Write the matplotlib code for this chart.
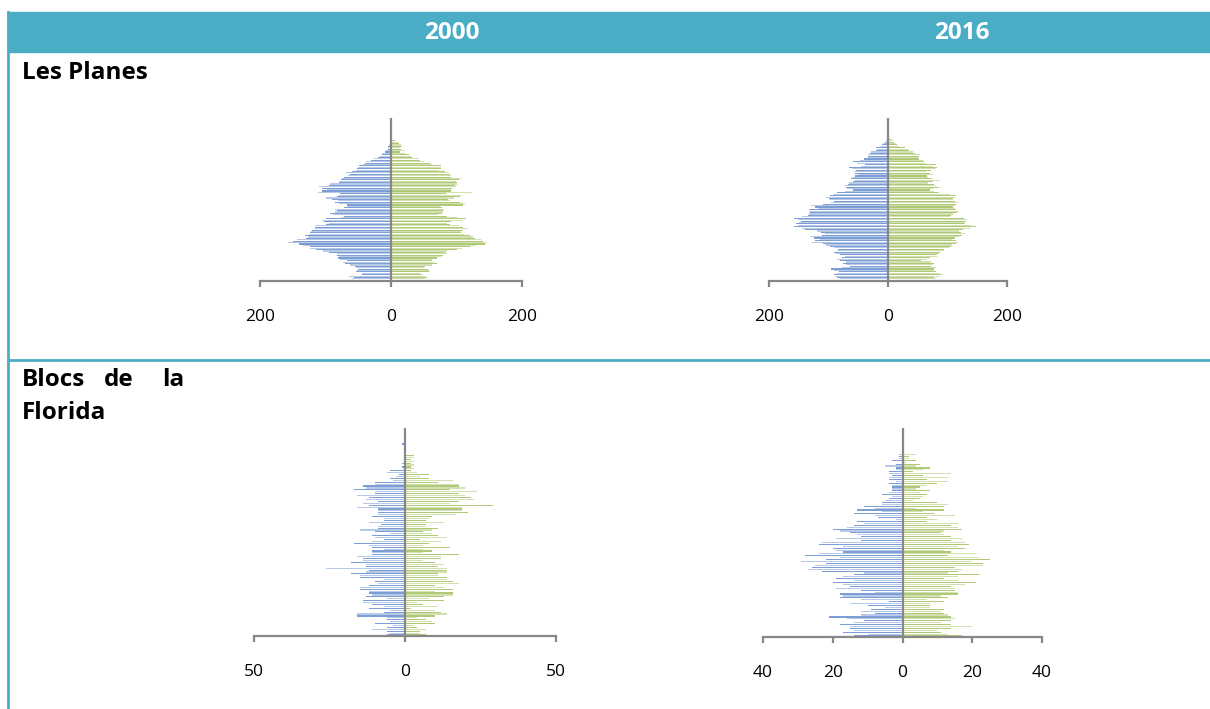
import matplotlib
matplotlib.use("Agg")
import matplotlib.pyplot as plt
from matplotlib.patches import Rectangle
from matplotlib.lines import Line2D

plt.rcParams['font.family'] = ['Open Sans', 'DejaVu Sans']

# ---------------- data ----------------
ages = list(range(101))
col_headers = ["2000", "2016"]
row_labels = ["Les Planes", "Blocs de la Florida"]

male_lp_2000 = [67, 60, 57, 64, 45, 44, 53, 52, 51, 53,
                55, 62, 70, 73, 67, 78, 81, 80, 82, 83,
                95, 104, 115, 123, 124, 135, 141, 158, 150, 143,
                130, 127, 131, 125, 123, 122, 120, 116, 116, 116,
                100, 94, 102, 105, 100, 75, 72, 88, 93, 85,
                83, 85, 71, 67, 67, 80, 86, 81, 90, 100,
                83, 80, 78, 112, 105, 98, 105, 110, 95, 93,
                80, 78, 77, 75, 72, 65, 62, 68, 60, 53,
                52, 50, 49, 42, 40, 38, 30, 26, 20, 17,
                14, 13, 9, 8, 5, 5, 4, 3, 2, 1,
                1]
female_lp_2000 = [50, 52, 55, 52, 48, 45, 58, 60, 56, 50,
                  52, 63, 70, 65, 62, 63, 70, 76, 80, 86,
                  83, 85, 100, 108, 120, 130, 143, 147, 140, 137,
                  128, 125, 120, 112, 107, 107, 110, 118, 110, 104,
                  90, 86, 92, 110, 115, 100, 85, 71, 78, 80,
                  80, 81, 78, 75, 110, 113, 105, 90, 87, 96,
                  105, 107, 84, 123, 92, 91, 93, 99, 98, 100,
                  101, 99, 104, 107, 91, 92, 90, 89, 82, 74,
                  76, 77, 76, 62, 60, 50, 45, 42, 32, 30,
                  28, 22, 14, 22, 16, 14, 17, 16, 12, 10,
                  6]
male_lp_2016 = [75, 80, 85, 88, 91, 86, 82, 91, 95, 78,
                64, 70, 76, 71, 80, 86, 78, 72, 80, 87,
                91, 85, 84, 90, 97, 105, 110, 128, 122, 114,
                125, 131, 111, 106, 112, 120, 140, 145, 158, 152,
                154, 150, 147, 152, 158, 145, 135, 132, 131, 132,
                132, 117, 122, 130, 110, 95, 91, 98, 100, 104,
                97, 90, 85, 72, 59, 69, 70, 72, 68, 65,
                58, 55, 62, 58, 55, 50, 55, 57, 53, 60,
                65, 45, 38, 52, 58, 47, 40, 33, 33, 33,
                31, 28, 20, 18, 20, 11, 10, 8, 5, 3,
                2]
female_lp_2016 = [85, 80, 77, 85, 90, 86, 80, 77, 78, 81,
                  72, 76, 78, 72, 55, 65, 71, 82, 82, 85,
                  88, 94, 94, 102, 106, 107, 115, 117, 114, 108,
                  112, 120, 124, 129, 122, 119, 126, 138, 148, 140,
                  130, 127, 131, 132, 127, 104, 106, 110, 116, 120,
                  114, 113, 109, 112, 115, 118, 113, 110, 109, 113,
                  115, 105, 86, 78, 70, 75, 86, 80, 78, 68,
                  76, 87, 74, 68, 66, 76, 70, 64, 72, 80,
                  82, 76, 80, 64, 60, 58, 52, 50, 52, 53,
                  46, 42, 35, 33, 28, 18, 15, 13, 10, 8,
                  5]
male_bf_2000 = [6, 5, 6, 11, 6, 4, 10, 5, 6, 6,
                16, 16, 7, 5, 12, 7, 11, 14, 14, 6,
                13, 11, 12, 12, 15, 15, 12, 9, 10, 7,
                15, 15, 18, 13, 12, 26, 13, 13, 18, 14,
                14, 16, 11, 11, 11, 7, 11, 12, 17, 11,
                7, 10, 11, 5, 10, 15, 9, 9, 8, 12,
                7, 7, 11, 9, 9, 9, 9, 16, 12, 14,
                9, 13, 12, 16, 10, 10, 17, 13, 14, 10,
                10, 4, 5, 3, 2, 6, 5, 0, 1, 0,
                1, 0, 0, 0, 0, 0, 0, 0, 0, 0,
                1]
female_bf_2000 = [7, 5, 5, 7, 4, 3, 10, 9, 7, 4,
                  10, 14, 12, 10, 2, 11, 6, 4, 13, 8,
                  13, 16, 16, 10, 16, 13, 10, 18, 16, 14,
                  14, 11, 11, 14, 14, 14, 11, 13, 10, 6,
                  12, 12, 18, 6, 9, 6, 15, 6, 8, 12,
                  5, 14, 11, 9, 6, 9, 11, 7, 7, 13,
                  7, 8, 9, 17, 21, 19, 19, 19, 29, 15,
                  18, 23, 22, 20, 18, 24, 15, 20, 18, 18,
                  11, 16, 8, 5, 8, 4, 2, 3, 2, 3,
                  2, 3, 2, 3, 3, 0, 0, 0, 0, 0,
                  0]
male_bf_2016 = [14, 10, 17, 14, 15, 15, 18, 14, 11, 16,
                21, 12, 8, 12, 9, 5, 10, 15, 4, 12,
                18, 17, 18, 8, 12, 19, 15, 17, 20, 14,
                19, 17, 14, 11, 23, 27, 26, 25, 22, 29,
                22, 18, 28, 24, 17, 19, 20, 17, 24, 23,
                12, 19, 12, 13, 15, 18, 20, 16, 14, 11,
                13, 2, 7, 8, 14, 6, 13, 8, 11, 6,
                6, 5, 4, 3, 6, 4, 3, 3, 3, 3,
                4, 2, 4, 4, 3, 4, 4, 2, 2, 5,
                2, 0, 3, 1, 1, 1, 0, 0, 0, 0,
                0]
female_bf_2016 = [17, 13, 11, 10, 14, 20, 14, 11, 14, 15,
                  14, 13, 12, 11, 12, 8, 8, 8, 12, 7,
                  13, 11, 16, 16, 15, 15, 14, 18, 21, 16,
                  12, 16, 22, 13, 16, 17, 15, 23, 23, 20,
                  25, 22, 13, 21, 14, 12, 18, 16, 19, 18,
                  14, 17, 14, 12, 11, 12, 17, 16, 14, 16,
                  7, 10, 7, 15, 9, 6, 12, 4, 12, 13,
                  10, 3, 5, 6, 7, 5, 8, 4, 5, 7,
                  10, 13, 7, 13, 6, 14, 3, 6, 8, 4,
                  5, 1, 4, 2, 2, 4, 0, 0, 0, 0,
                  0]

ticks_lp = [-200, 0, 200]
ticks_bf_2000 = [-50, 0, 50]
ticks_bf_2016 = [-40, -20, 0, 20, 40]

# ---------------- layout ----------------
W, H = 1210, 709
fig = plt.figure(figsize=(W / 100, H / 100), dpi=100)
TEAL = '#4bacc6'
GRAY = '#878787'

def fx(x):
    return x / W

def fy(y):
    return 1 - y / H

# header band
fig.patches.append(Rectangle((fx(8), fy(52)), fx(1210) - fx(8), fy(12) - fy(52),
                             transform=fig.transFigure, color=TEAL, zorder=0))
# left border and separator
fig.lines.append(Line2D([fx(8), fx(8)], [fy(12), fy(709)], transform=fig.transFigure,
                        color=TEAL, lw=2.0))
fig.lines.append(Line2D([fx(8), fx(1210)], [fy(360), fy(360)], transform=fig.transFigure,
                        color=TEAL, lw=2.0))

HFS = 17.5
fig.text(fx(452), fy(33), col_headers[0], color='white', fontsize=HFS, fontweight='bold',
         ha='center', va='center')
fig.text(fx(962), fy(33), col_headers[1], color='white', fontsize=HFS, fontweight='bold',
         ha='center', va='center')

fig.text(fx(22), fy(73), row_labels[0], color='black', fontsize=HFS, fontweight='bold',
         ha='left', va='center')
w1 = row_labels[1].split()
fig.text(fx(22), fy(380), w1[0], color='black', fontsize=HFS, fontweight='bold', ha='left', va='center')
fig.text(fx(119), fy(380), w1[1], color='black', fontsize=HFS, fontweight='bold', ha='center', va='center')
fig.text(fx(184), fy(380), w1[2], color='black', fontsize=HFS, fontweight='bold', ha='right', va='center')
fig.text(fx(22), fy(413), " ".join(w1[3:]), color='black', fontsize=HFS, fontweight='bold',
         ha='left', va='center')

MALE = ['#7c9ed4', '#b6cae8']
FEMALE = ['#b0c978', '#d3e1b2']


def pyramid(left, right, bottom, top, xmax, ticks, male, female, per_age, barh):
    ax = fig.add_axes([fx(left), fy(bottom), fx(right) - fx(left), fy(top) - fy(bottom)])
    ytop = -0.5 + (bottom - top) / per_age
    mcol = [MALE[i % 2] for i in range(len(ages))]
    fcol = [FEMALE[i % 2] for i in range(len(ages))]
    ax.barh(ages, [-v for v in male], height=barh, color=mcol, linewidth=0, antialiased=False)
    ax.barh(ages, female, height=barh, color=fcol, linewidth=0, antialiased=False)
    ax.set_xlim(-xmax, xmax)
    ax.set_ylim(-0.5, ytop)
    ax.axvline(0, color=GRAY, lw=1.6, zorder=3)
    for s in ['left', 'right', 'top']:
        ax.spines[s].set_visible(False)
    ax.spines['bottom'].set_color(GRAY)
    ax.spines['bottom'].set_linewidth(1.6)
    ax.spines['bottom'].set_zorder(4)
    ax.set_yticks([])
    ax.set_xticks(ticks)
    ax.set_xticklabels([str(abs(t)) for t in ticks])
    ax.tick_params(axis='x', direction='out', length=4.5, width=1.6, color=GRAY,
                   pad=16, labelsize=12.5, labelcolor='black')
    ax.patch.set_alpha(0)
    return ax


pyramid(260, 522, 281, 118, 200, ticks_lp, male_lp_2000, female_lp_2000, 1.395, 0.8)
pyramid(769, 1007, 281, 118, 200, ticks_lp, male_lp_2016, female_lp_2016, 1.41, 0.8)
pyramid(254, 556, 636, 428, 50, ticks_bf_2000, male_bf_2000, female_bf_2000, 1.91, 0.6)
pyramid(763, 1042, 637, 428, 40, ticks_bf_2016, male_bf_2016, female_bf_2016, 1.91, 0.6)

fig.savefig('out.png', dpi=100)
